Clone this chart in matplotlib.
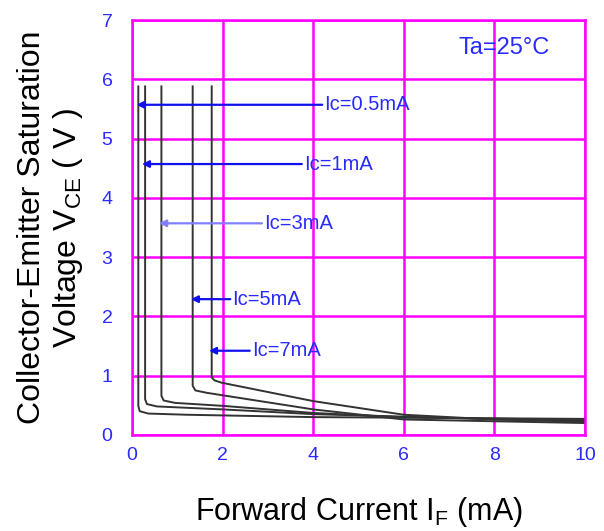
import matplotlib.pyplot as plt

plt.rcParams['font.family'] = ['Liberation Sans', 'DejaVu Sans']
plt.rcParams['mathtext.fontset'] = 'custom'
plt.rcParams['mathtext.rm'] = 'Liberation Sans'

# データ
labels = ['Ic=0.5mA', 'Ic=1mA', 'Ic=3mA', 'Ic=5mA', 'Ic=7mA']
if_05 = [0.14, 0.14, 0.17, 0.36, 1.2, 4.0, 10.0]
vce_05 = [5.88, 0.49, 0.40, 0.36, 0.34, 0.30, 0.27]
if_1 = [0.29, 0.29, 0.33, 0.55, 2.0, 4.0, 10.0]
vce_1 = [5.88, 0.60, 0.52, 0.48, 0.43, 0.35, 0.22]
if_3 = [0.65, 0.65, 0.70, 0.95, 2.0, 4.0, 6.0, 10.0]
vce_3 = [5.88, 0.66, 0.58, 0.54, 0.49, 0.37, 0.30, 0.25]
if_5 = [1.34, 1.34, 1.40, 1.65, 4.0, 6.0, 10.0]
vce_5 = [5.88, 0.83, 0.75, 0.71, 0.43, 0.26, 0.20]
if_7 = [1.76, 1.76, 1.82, 1.98, 4.0, 6.0, 8.0, 10.0]
vce_7 = [5.88, 0.97, 0.92, 0.88, 0.57, 0.34, 0.26, 0.23]
curves = [(if_05, vce_05), (if_1, vce_1), (if_3, vce_3), (if_5, vce_5), (if_7, vce_7)]

# 矢印の先端・テキスト位置
arrow_tip_x = [0.10, 0.22, 0.60, 1.30, 1.70]
arrow_y = [5.57, 4.57, 3.57, 2.29, 1.42]
text_x = [4.25, 3.80, 2.92, 2.22, 2.65]
arrow_col = ['#1010ee', '#1010ee', '#8080ff', '#1010ee', '#1010ee']

xticks = [0, 2, 4, 6, 8, 10]
yticks = [0, 1, 2, 3, 4, 5, 6, 7]

blue = '#2a2aff'

fig = plt.figure(figsize=(6.04, 5.31), dpi=100)
ax = fig.add_axes([0.2185, 0.181, 0.75, 0.7813])

for xs, ys in curves:
    ax.plot(xs, ys, color='#333333', lw=1.4, solid_joinstyle='round')

for i in range(len(labels)):
    ax.annotate('', xy=(arrow_tip_x[i], arrow_y[i]), xytext=(text_x[i] - 0.05, arrow_y[i]),
                arrowprops=dict(arrowstyle='-|>', color=arrow_col[i], lw=1.6,
                                mutation_scale=10, shrinkA=0, shrinkB=0))
    ax.text(text_x[i], arrow_y[i], labels[i], color=blue, fontsize=14.5,
            va='center', ha='left')

ax.text(7.2, 6.53, 'Ta=25°C', color=blue, fontsize=17, va='center', ha='left')

ax.set_xlim(0, 10)
ax.set_ylim(0, 7)
ax.set_xticks(xticks)
ax.set_yticks(yticks)
ax.grid(True, color='#ff00ff', lw=1.8)
for s in ax.spines.values():
    s.set_color('#ff00ff')
    s.set_linewidth(1.8)
ax.tick_params(length=0, labelsize=14, labelcolor=blue)
ax.tick_params(axis='y', pad=14)
ax.tick_params(axis='x', pad=9)

ax.set_xlabel('Forward Current I$_{\\mathrm{F}}$ (mA)', fontsize=22, labelpad=22)
ax.set_ylabel('Collector-Emitter Saturation\nVoltage V$_{\\mathrm{CE}}$ ( V )', fontsize=23,
              labelpad=12, linespacing=1.15)

fig.savefig('out.png', dpi=100)
